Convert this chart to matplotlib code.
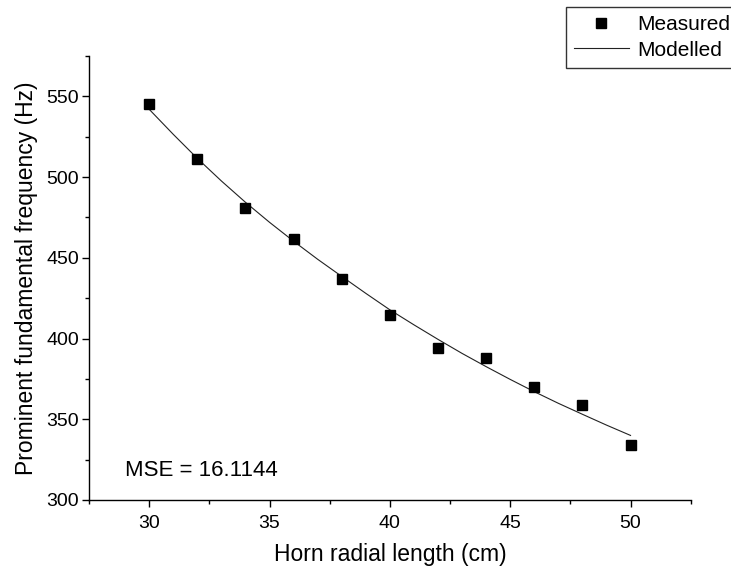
import matplotlib
matplotlib.use("Agg")
import matplotlib.pyplot as plt
from matplotlib.ticker import MultipleLocator

plt.rcParams['font.family'] = ['Liberation Sans', 'DejaVu Sans']

# measured points
length_cm = [30, 32, 34, 36, 38, 40, 42, 44, 46, 48, 50]
freq_measured = [545.5, 511.2, 480.6, 461.8, 436.8, 414.3, 394.0, 387.8, 369.9, 358.7, 333.9]

# modelled curve at every cm
model_len = [30, 31, 32, 33, 34, 35, 36, 37, 38, 39, 40,
             41, 42, 43, 44, 45, 46, 47, 48, 49, 50]
model_freq = [542.0, 526.5, 511.6, 497.6, 484.4, 472.0, 460.3, 449.1, 438.5, 428.0, 417.8,
              408.5, 399.5, 390.8, 382.6, 374.7, 367.1, 359.9, 353.1, 346.4, 340.0]

mse_text = "MSE = 16.1144"

fig = plt.figure(figsize=(7.31, 5.70), dpi=100)
ax = fig.add_axes([89 / 731, 70 / 570, (690.7 - 89) / 731, (500 - 56) / 570])

ax.plot(model_len, model_freq, color='#222222', lw=0.8, label='Modelled', zorder=2)
ax.plot(length_cm, freq_measured, ls='none', marker='s', ms=7.2, color='black',
        label='Measured', zorder=3)

ax.set_xlim(27.5, 52.5)
ax.set_ylim(300, 575)
ax.xaxis.set_major_locator(MultipleLocator(5))
ax.xaxis.set_minor_locator(MultipleLocator(2.5))
ax.yaxis.set_major_locator(MultipleLocator(50))
ax.yaxis.set_minor_locator(MultipleLocator(25))

for side in ['top', 'right']:
    ax.spines[side].set_visible(False)
for side in ['left', 'bottom']:
    ax.spines[side].set_linewidth(1.0)

ax.tick_params(which='major', direction='out', length=5, width=1.0, labelsize=14)
ax.tick_params(which='minor', direction='out', length=3, width=1.0)
ax.tick_params(axis='x', which='major', pad=6)
ax.tick_params(axis='y', which='major', pad=2)

ax.set_xlabel("Horn radial length (cm)", fontsize=16.5, labelpad=8)
ax.set_ylabel("Prominent fundamental frequency (Hz)", fontsize=16.5, labelpad=6)

ax.text(29.0, 315, mse_text, fontsize=16, va='baseline', ha='left')

handles, labels = ax.get_legend_handles_labels()
leg = fig.legend([handles[1], handles[0]], [labels[1], labels[0]],
                 loc='upper left', bbox_to_anchor=(566 / 731, 1 - 7 / 570),
                 borderaxespad=0, fontsize=15, frameon=True, fancybox=False,
                 edgecolor='black', borderpad=0.4, labelspacing=0.3,
                 handlelength=2.6, handletextpad=0.4)
leg.get_frame().set_linewidth(1.0)

fig.savefig("out.png", dpi=100)
